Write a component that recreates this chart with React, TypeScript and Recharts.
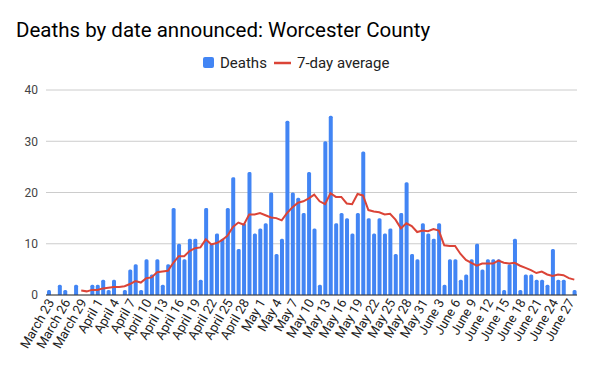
import React from 'react';
import { ComposedChart, Bar, Line, XAxis, YAxis, CartesianGrid } from 'recharts';

const DATES: string[] = [
  'March 23', 'March 24', 'March 25', 'March 26', 'March 27', 'March 28', 'March 29', 'March 30', 'March 31',
  'April 1', 'April 2', 'April 3', 'April 4', 'April 5', 'April 6', 'April 7', 'April 8', 'April 9', 'April 10',
  'April 11', 'April 12', 'April 13', 'April 14', 'April 15', 'April 16', 'April 17', 'April 18', 'April 19', 'April 20',
  'April 21', 'April 22', 'April 23', 'April 24', 'April 25', 'April 26', 'April 27', 'April 28', 'April 29', 'April 30',
  'May 1', 'May 2', 'May 3', 'May 4', 'May 5', 'May 6', 'May 7', 'May 8', 'May 9', 'May 10',
  'May 11', 'May 12', 'May 13', 'May 14', 'May 15', 'May 16', 'May 17', 'May 18', 'May 19', 'May 20',
  'May 21', 'May 22', 'May 23', 'May 24', 'May 25', 'May 26', 'May 27', 'May 28', 'May 29', 'May 30', 'May 31',
  'June 1', 'June 2', 'June 3', 'June 4', 'June 5', 'June 6', 'June 7', 'June 8', 'June 9', 'June 10',
  'June 11', 'June 12', 'June 13', 'June 14', 'June 15', 'June 16', 'June 17', 'June 18', 'June 19', 'June 20',
  'June 21', 'June 22', 'June 23', 'June 24', 'June 25', 'June 26', 'June 27', 'June 28',
];

const DEATHS: number[] = [
  1, 0, 2, 1, 0, 2, 0, 0, 2,
  2, 3, 1, 3, 0, 1, 5, 6, 1, 7,
  4, 7, 2, 6, 17, 10, 7, 11, 11, 3,
  17, 10, 12, 11, 17, 23, 9, 14, 24, 12,
  13, 14, 20, 8, 11, 34, 20, 19, 16, 24,
  13, 2, 30, 35, 14, 16, 15, 12, 16, 28,
  15, 12, 15, 12, 13, 8, 16, 22, 8, 7, 14,
  12, 11, 14, 2, 7, 7, 3, 4, 7, 10,
  5, 7, 7, 7, 1, 6, 11, 1, 4, 4,
  3, 3, 2, 9, 3, 3, 0, 1,
];

const AVG_7DAY: (number | null)[] = [
  null, null, null, null, null, null, 0.86, 0.71, 1.0,
  1.0, 1.29, 1.43, 1.57, 1.57, 1.71, 2.14, 2.71, 2.43, 3.29,
  3.43, 4.43, 4.57, 4.71, 6.29, 7.57, 7.57, 8.57, 9.14, 9.29,
  10.86, 9.86, 10.14, 10.71, 11.57, 13.29, 14.14, 13.71, 15.71, 15.71,
  16.0, 15.57, 15.14, 15.0, 14.57, 16.0, 17.14, 18.0, 18.29, 18.86,
  19.57, 18.29, 17.71, 19.86, 19.14, 19.14, 17.86, 17.71, 19.71, 19.43,
  16.57, 16.29, 16.14, 15.71, 15.86, 14.71, 13.0, 14.0, 13.43, 12.29, 12.57,
  12.43, 12.86, 12.57, 9.71, 9.57, 9.57, 8.0, 6.86, 6.29, 5.71,
  6.14, 6.14, 6.14, 6.71, 6.29, 6.14, 6.29, 5.71, 5.29, 4.86,
  4.29, 4.57, 4.0, 3.71, 4.0, 3.86, 3.29, 3.0,
];

const Y_TICKS: number[] = [0, 10, 20, 30, 40];

const TITLE = 'Deaths by date announced: Worcester County';
const LEGEND_BARS = 'Deaths';
const LEGEND_LINE = '7-day average';

const BLUE = '#4285F4';
const RED = '#DB4437';
const FONT = 'Roboto, Arial, sans-serif';

const data = DATES.map((d, i) => ({ date: d, deaths: DEATHS[i], avg: AVG_7DAY[i] }));

const XTick = (props: any) => {
  const { x, y, payload } = props;
  const tx = x + 2;
  const ty = y + 5;
  return (
    <text
      x={tx}
      y={ty}
      transform={`rotate(-60 ${tx} ${ty})`}
      textAnchor="end"
      dy="0.35em"
      fontSize={13}
      fill="#222"
      fontFamily={FONT}
    >
      {payload.value}
    </text>
  );
};

export default function App() {
  return (
    <div style={{ position: 'fixed', left: 0, top: 0, width: 596, height: 368, background: '#fff' }}>
      <ComposedChart
        width={596}
        height={368}
        data={data}
        margin={{ top: 90, right: 19, left: 0, bottom: 0 }}
        barCategoryGap={1}
      >
        <CartesianGrid vertical={false} stroke="#cccccc" />
        <XAxis
          dataKey="date"
          interval={2}
          height={73}
          tickLine={false}
          tickSize={0}
          tickMargin={0}
          axisLine={{ stroke: '#333333' }}
          tick={<XTick />}
        />
        <YAxis
          width={46}
          domain={[0, 40]}
          ticks={Y_TICKS}
          axisLine={false}
          tickLine={false}
          tickSize={0}
          tickMargin={8}
          tick={{ fontSize: 12, fill: '#444', fontFamily: FONT }}
        />
        <Bar dataKey="deaths" fill={BLUE} barSize={4} radius={[1.5, 1.5, 0, 0]} isAnimationActive={false} />
        <Line
          dataKey="avg"
          type="linear"
          stroke={RED}
          strokeWidth={2}
          dot={false}
          activeDot={false}
          connectNulls={false}
          isAnimationActive={false}
        />
      </ComposedChart>
      <svg width={596} height={80} style={{ position: 'absolute', left: 0, top: 0, pointerEvents: 'none' }}>
        <text x={16} y={37} fontSize={20.5} fill="#000" fontFamily={FONT}>{TITLE}</text>
        <rect x={203} y={57} width={11} height={11} rx={2} fill={BLUE} />
        <text x={220} y={68} fontSize={15} fill="#222" fontFamily={FONT}>{LEGEND_BARS}</text>
        <line x1={274} y1={63} x2={291} y2={63} stroke={RED} strokeWidth={2.5} />
        <text x={297} y={68} fontSize={15} fill="#222" fontFamily={FONT}>{LEGEND_LINE}</text>
      </svg>
    </div>
  );
}
